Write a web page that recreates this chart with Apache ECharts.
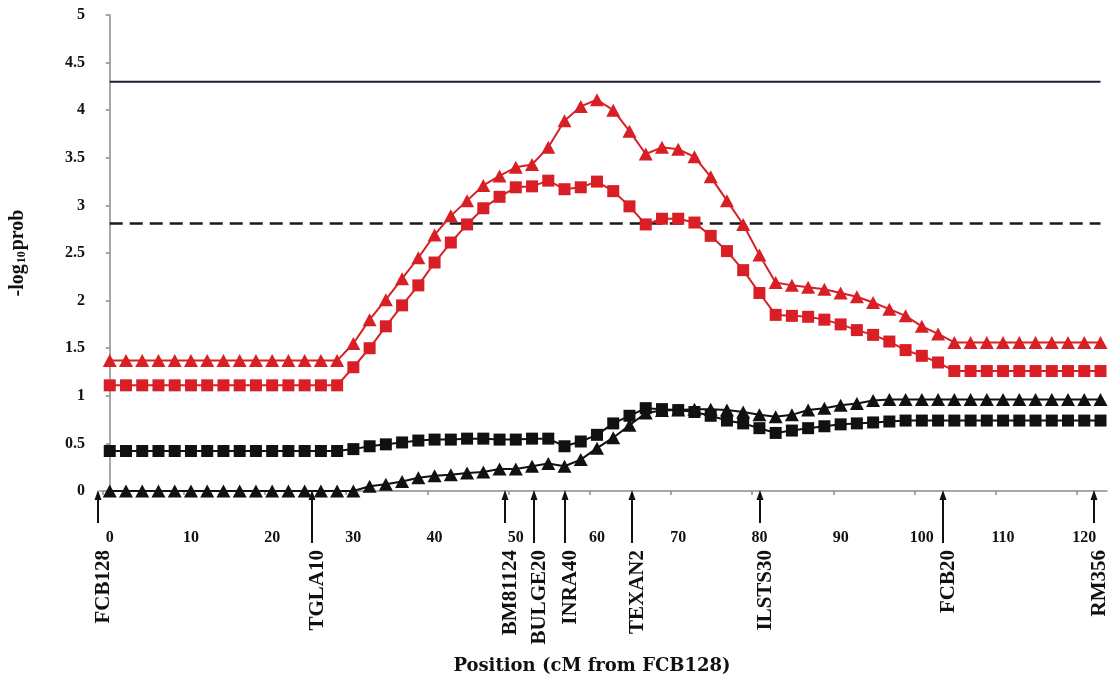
<!DOCTYPE html>
<html>
<head>
<meta charset="utf-8">
<script src="https://cdn.jsdelivr.net/npm/echarts@6/dist/echarts.min.js"></script>
<style>
  html, body { margin: 0; padding: 0; background: #ffffff; }
  #chart { width: 1111px; height: 682px; }
</style>
</head>
<body>
<div id="chart"></div>
<script>
// Map positions (cM from FCB128) of the scan points
const positions = [0, 2, 4, 6, 8, 10, 12, 14, 16, 18, 20, 22, 24, 26, 28, 30, 32, 34, 36, 38,
  40, 42, 44, 46, 48, 50, 52, 54, 56, 58, 60, 62, 64, 66, 68, 70, 72, 74, 76, 78,
  80, 82, 84, 86, 88, 90, 92, 94, 96, 98, 100, 102, 104, 106, 108, 110, 112, 114, 116, 118,
  120, 122];

// -log10(prob) profiles
const redTriangles = [1.37, 1.37, 1.37, 1.37, 1.37, 1.37, 1.37, 1.37, 1.37, 1.37, 1.37, 1.37, 1.37, 1.37, 1.37,
  1.55, 1.80, 2.01, 2.23, 2.45, 2.69, 2.89, 3.05, 3.21, 3.31, 3.40, 3.43, 3.61, 3.89, 4.04, 4.11, 4.00, 3.78, 3.54,
  3.61, 3.59, 3.51, 3.30, 3.05, 2.80, 2.48, 2.19, 2.16, 2.14, 2.12, 2.08, 2.04, 1.98, 1.91, 1.84, 1.73, 1.65,
  1.56, 1.56, 1.56, 1.56, 1.56, 1.56, 1.56, 1.56, 1.56, 1.56];

const redSquares = [1.11, 1.11, 1.11, 1.11, 1.11, 1.11, 1.11, 1.11, 1.11, 1.11, 1.11, 1.11, 1.11, 1.11, 1.11,
  1.30, 1.50, 1.73, 1.95, 2.16, 2.40, 2.61, 2.80, 2.97, 3.09, 3.19, 3.20, 3.26, 3.17, 3.19, 3.25, 3.15, 2.99, 2.80,
  2.86, 2.86, 2.82, 2.68, 2.52, 2.32, 2.08, 1.85, 1.84, 1.83, 1.80, 1.75, 1.69, 1.64, 1.57, 1.48, 1.42, 1.35,
  1.26, 1.26, 1.26, 1.26, 1.26, 1.26, 1.26, 1.26, 1.26, 1.26];

const blackSquares = [0.42, 0.42, 0.42, 0.42, 0.42, 0.42, 0.42, 0.42, 0.42, 0.42, 0.42, 0.42, 0.42, 0.42, 0.42,
  0.44, 0.47, 0.49, 0.51, 0.53, 0.54, 0.54, 0.55, 0.55, 0.54, 0.54, 0.55, 0.55, 0.47, 0.52, 0.59, 0.71, 0.79, 0.87,
  0.86, 0.85, 0.83, 0.79, 0.74, 0.71, 0.66, 0.61, 0.635, 0.66, 0.68, 0.70, 0.71, 0.72, 0.73, 0.74, 0.74, 0.74,
  0.74, 0.74, 0.74, 0.74, 0.74, 0.74, 0.74, 0.74, 0.74, 0.74];

const blackTriangles = [0, 0, 0, 0, 0, 0, 0, 0, 0, 0, 0, 0, 0, 0, 0, 0,
  0.05, 0.07, 0.10, 0.14, 0.16, 0.17, 0.19, 0.20, 0.23, 0.23, 0.26, 0.29, 0.26, 0.33, 0.45, 0.56, 0.69, 0.82,
  0.845, 0.85, 0.86, 0.86, 0.85, 0.83, 0.80, 0.78, 0.80, 0.85, 0.87, 0.90, 0.92, 0.95, 0.96,
  0.96, 0.96, 0.96, 0.96, 0.96, 0.96, 0.96, 0.96, 0.96, 0.96, 0.96, 0.96, 0.96];

// Significance thresholds
const thresholdSolid = 4.3;
const thresholdDashed = 2.81;
const thresholdSpan = [0, 122];

// Microsatellite markers along the chromosome
const markerNames = ['FCB128', 'TGLA10', 'BM81124', 'BULGE20', 'INRA40', 'TEXAN2', 'ILSTS30', 'FCB20', 'RM356'];
const markerPos = [-1.5, 24.9, 48.7, 52.3, 56.0, 64.3, 80.1, 102.6, 121.2];

// Axis tick labels
const xTickLabels = [0, 10, 20, 30, 40, 50, 60, 70, 80, 90, 100, 110, 120];

const RED = '#d91f26';
const BLACK = '#111111';
const AXIS_GREY = '#8c8c8c';
const SERIF = '"Liberation Serif", "Times New Roman", serif';
const longArrow = new Set(['TGLA10', 'BULGE20', 'INRA40', 'TEXAN2', 'FCB20']);

const pairs = (ys) => positions.map((x, i) => [x, ys[i]]);

const chart = echarts.init(document.getElementById('chart'), null, { renderer: 'canvas' });

function profile(name, ys, color, symbol, size) {
  return {
    name: name,
    type: 'line',
    data: pairs(ys),
    symbol: symbol,
    symbolSize: size,
    showSymbol: true,
    showAllSymbol: true,
    lineStyle: { color: color, width: 2 },
    itemStyle: { color: color },
    z: 3
  };
}

const option = {
  animation: false,
  backgroundColor: '#ffffff',
  grid: { left: 100, top: 15, right: 4, bottom: 191 },
  xAxis: {
    type: 'value',
    min: -1.2,
    max: 122.8,
    axisLine: { show: true, onZero: false, lineStyle: { color: AXIS_GREY, width: 1.5 } },
    axisTick: {
      show: true, inside: false, length: 4,
      customValues: xTickLabels.map(v => v - 0.9),
      lineStyle: { color: AXIS_GREY, width: 1.5 }
    },
    axisLabel: {
      customValues: xTickLabels,
      margin: 39,
      fontFamily: SERIF, fontWeight: 'bold', fontSize: 16, color: BLACK
    },
    splitLine: { show: false },
    name: 'Position (cM from FCB128)',
    nameLocation: 'middle',
    nameGap: 166,
    nameTextStyle: {
      fontFamily: '"DejaVu Serif", serif', fontWeight: 'bold', fontSize: 18, color: BLACK,
      padding: [0, 23, 0, 0]
    }
  },
  yAxis: {
    type: 'value',
    min: 0,
    max: 5,
    interval: 0.5,
    axisLine: { show: true, lineStyle: { color: AXIS_GREY, width: 1.5 } },
    axisTick: { show: true, inside: false, length: 4, lineStyle: { color: AXIS_GREY, width: 1.5 } },
    axisLabel: { margin: 15, fontFamily: SERIF, fontWeight: 'bold', fontSize: 16, color: BLACK },
    splitLine: { show: false },
    name: '-log{sub|10}prob',
    nameLocation: 'middle',
    nameGap: 72,
    nameTextStyle: {
      fontFamily: SERIF, fontWeight: 'bold', fontSize: 20, color: BLACK,
      rich: {
        sub: { fontFamily: SERIF, fontWeight: 'bold', fontSize: 12, color: BLACK, verticalAlign: 'bottom', padding: [6, 1, 0, 1] }
      }
    }
  },
  series: [
    {
      name: 'threshold-solid',
      type: 'line',
      data: thresholdSpan.map(x => [x, thresholdSolid]),
      symbol: 'none',
      silent: true,
      lineStyle: { color: '#1c1f33', width: 2 },
      z: 1
    },
    {
      name: 'threshold-dashed',
      type: 'line',
      data: thresholdSpan.map(x => [x, thresholdDashed]),
      symbol: 'none',
      silent: true,
      lineStyle: { color: '#1a1a1a', width: 2.5, type: [13, 7] },
      z: 1
    },
    profile('red-squares', redSquares, RED, 'rect', 12),
    profile('red-triangles', redTriangles, RED, 'triangle', [14, 13]),
    profile('black-squares', blackSquares, BLACK, 'rect', 12),
    profile('black-triangles', blackTriangles, BLACK, 'triangle', [14, 13]),
    {
      name: 'markers',
      type: 'custom',
      clip: false,
      silent: true,
      data: markerPos.map(p => [p, 0]),
      encode: { x: 0, y: 1 },
      z: 5,
      renderItem: function (params, api) {
        const name = markerNames[params.dataIndex];
        const base = api.coord([api.value(0), api.value(1)]);
        const x = Math.round(base[0]);
        const y = base[1];
        const len = longArrow.has(name) ? 52 : 32;
        return {
          type: 'group',
          children: [
            {
              type: 'line',
              shape: { x1: x, y1: y + 8, x2: x, y2: y + len },
              style: { stroke: BLACK, lineWidth: 2 }
            },
            {
              type: 'polygon',
              shape: { points: [[x, y - 1], [x - 3.5, y + 9], [x + 3.5, y + 9]] },
              style: { fill: BLACK }
            },
            {
              type: 'text',
              x: x + 6,
              y: y + 59,
              rotation: Math.PI / 2,
              style: {
                text: name,
                align: 'right',
                verticalAlign: 'middle',
                font: 'bold 21px ' + SERIF,
                fill: BLACK
              }
            }
          ]
        };
      }
    }
  ]
};

chart.setOption(option);
</script>
</body>
</html>
